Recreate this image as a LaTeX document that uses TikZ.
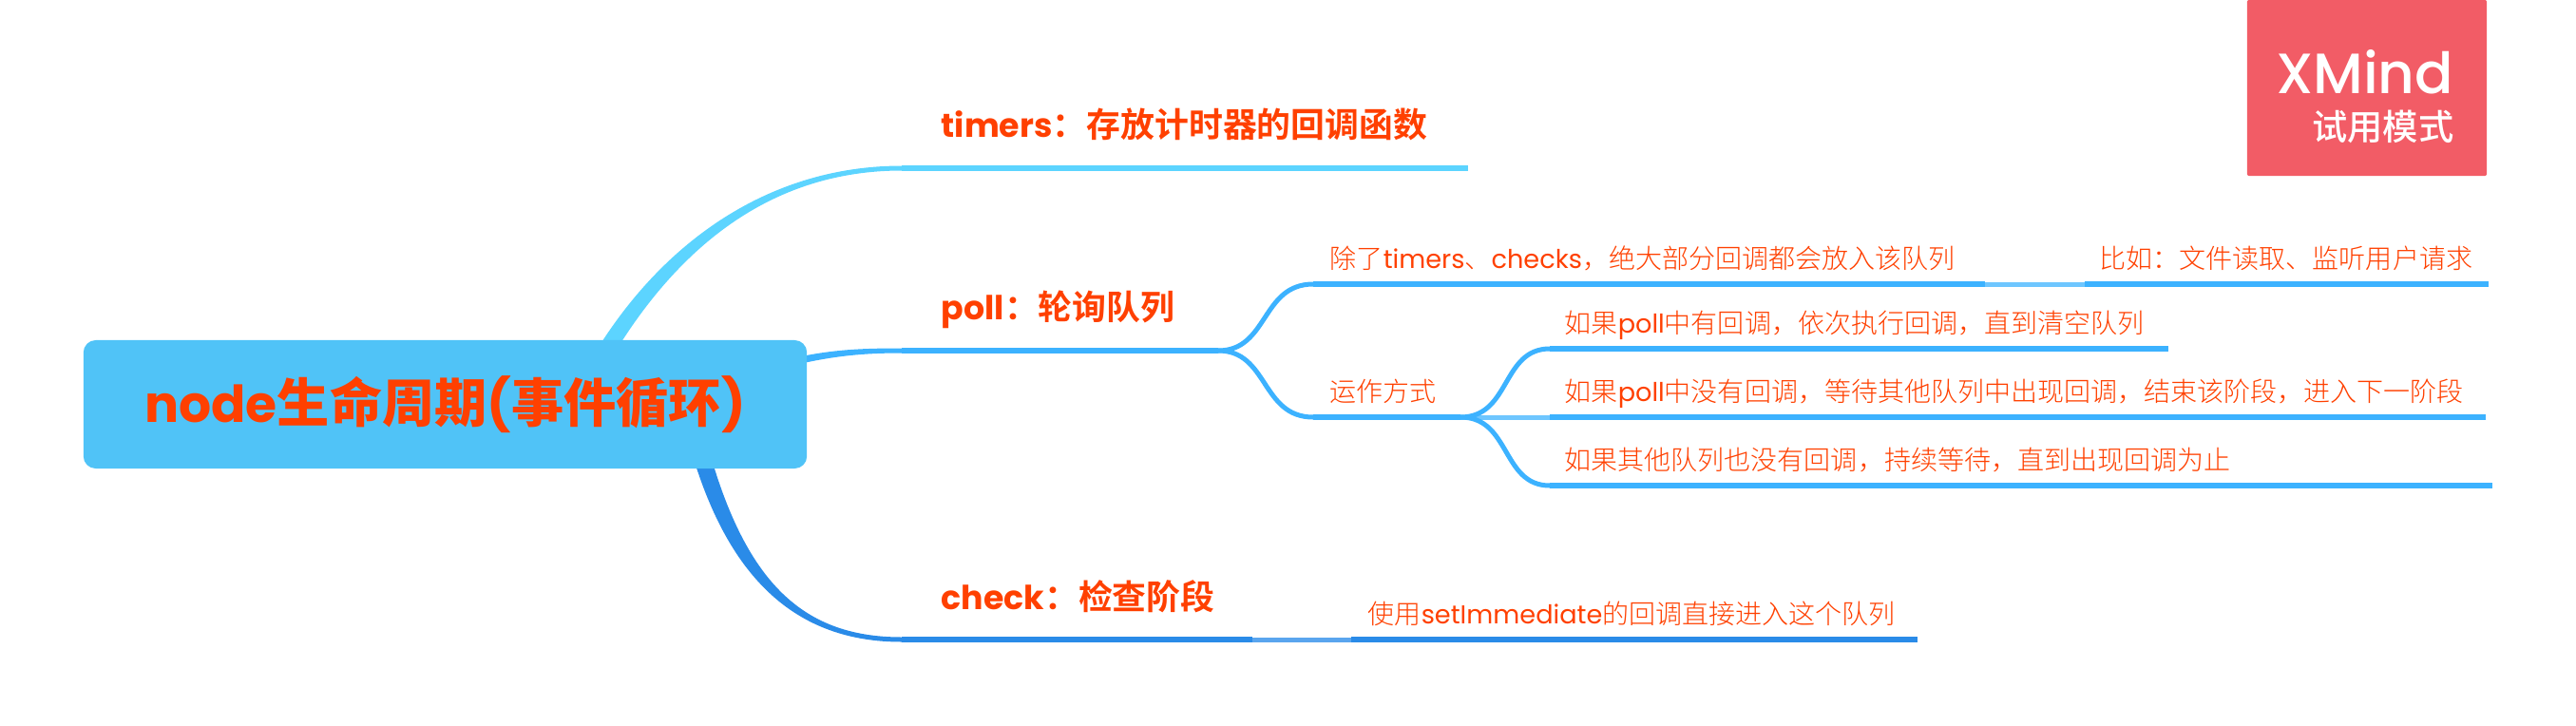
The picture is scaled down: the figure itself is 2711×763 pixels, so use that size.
\documentclass[tikz,border=0pt]{standalone}
\usepackage{fontspec}
\setmainfont{Noto Sans CJK SC Light}[BoldFont=Noto Sans CJK SC Bold]
\newfontfamily\heavyfont{Noto Sans CJK SC Black}
\newfontfamily\badgefont{Noto Sans CJK SC Medium}
\newfontfamily\latinfont{Poppins}[Scale=0.97]
\newfontfamily\logofont{Poppins Medium}
\usepackage{xcolor}
\usetikzlibrary{calc}
\definecolor{orangered}{RGB}{255,64,0}
\definecolor{rootblue}{RGB}{80,195,247}
\definecolor{timerblue}{RGB}{92,212,255}
\definecolor{pollblue}{RGB}{60,178,255}
\definecolor{pollpale}{RGB}{110,198,255}
\definecolor{checkblue}{RGB}{42,139,232}
\definecolor{checkpale}{RGB}{90,165,238}
\definecolor{logored}{RGB}{242,92,102}
\newcommand{\lat}[1]{{\latinfont #1}}
\tikzset{
	rootbox/.style={fill=rootblue, rounded corners=0.13cm, text=orangered, font=\fontsize{15.7pt}{18pt}\selectfont\heavyfont, minimum width=7.61cm, minimum height=1.35cm, inner sep=0pt},
	topic/.style={anchor=base west, inner sep=0pt, text=orangered, font=\fontsize{10.2pt}{12pt}\selectfont\bfseries},
	leaf/.style={anchor=base west, inner sep=0pt, text=orangered, font=\fontsize{7.97pt}{10pt}\selectfont},
	bar/.style={line width=0.055cm},
	link/.style={line width=0.05cm}
}
% tapering branch: colour, start, control, control, end, half width at the start
\newcommand{\branch}[7]{\fill[#1] ($(#2)+(#6,#7)$) .. controls ($(#3)+(#6,#7)$) and ($(#4)+(0,2.5)$) .. ($(#5)+(0,2.5)$) -- ($(#5)+(0,-2.5)$) .. controls ($(#4)+(0,-2.5)$) and ($(#3)-(#6,#7)$) .. ($(#2)-(#6,#7)$) -- cycle;}
\begin{document}
\begin{tikzpicture}[x=0.01cm, y=-0.01cm]
	\useasboundingbox (0,0) rectangle (2711,763);
	\coordinate (timersA) at (949,177);
	\coordinate (timersB) at (1545,177);
	\coordinate (pollA) at (949,369);
	\coordinate (pollB) at (1282,369);
	\coordinate (checkA) at (949,673);
	\coordinate (checkB) at (1318,673);
	\coordinate (useA) at (1422,673);
	\coordinate (useB) at (2018,673);
	\coordinate (allA) at (1382,299);
	\coordinate (allB) at (2089,299);
	\coordinate (exampleA) at (2194,299);
	\coordinate (exampleB) at (2619,299);
	\coordinate (howA) at (1382,439);
	\coordinate (howB) at (1537,439);
	\coordinate (hasA) at (1631,367);
	\coordinate (hasB) at (2282,367);
	\coordinate (noneA) at (1631,439);
	\coordinate (noneB) at (2616,439);
	\coordinate (waitA) at (1631,511);
	\coordinate (waitB) at (2623,511);
	% main branches
	\coordinate (t0) at (620,400); \coordinate (t1) at (690,270); \coordinate (t2) at (800,177);
	\coordinate (p0) at (800,390); \coordinate (p1) at (860,372); \coordinate (p2) at (900,369);
	\coordinate (c0) at (728,440); \coordinate (c1) at (768,610); \coordinate (c2) at (840,673);
	\branch{timerblue}{t0}{t1}{t2}{timersA}{8}{4}
	\branch{pollblue}{p0}{p1}{p2}{pollA}{0}{4}
	\branch{checkblue}{c0}{c1}{c2}{checkA}{-9}{2}
	% lines under the texts
	\draw[bar, timerblue] (timersA) -- (timersB);
	\draw[bar, pollblue] (pollA) -- (pollB);
	\draw[bar, checkblue] (checkA) -- (checkB);
	\draw[link, checkpale] (checkB) -- (useA);
	\draw[bar, checkblue] (useA) -- (useB);
	\draw[bar, pollblue] (allA) -- (allB);
	\draw[link, pollpale] (allB) -- (exampleA);
	\draw[bar, pollblue] (exampleA) -- (exampleB);
	\draw[bar, pollblue] (howA) -- (howB);
	\draw[bar, pollblue] (hasA) -- (hasB);
	\draw[link, pollpale] (howB) -- (noneA);
	\draw[bar, pollblue] (noneA) -- (noneB);
	\draw[bar, pollblue] (waitA) -- (waitB);
	% forks
	\draw[link, pollblue] (pollB) .. controls (1335,369) and (1327,299) .. (allA);
	\draw[link, pollblue] (pollB) .. controls (1335,369) and (1327,439) .. (howA);
	\draw[link, pollblue] (howB) .. controls (1590,439) and (1580,367) .. (hasA);
	\draw[link, pollblue] (howB) .. controls (1590,439) and (1580,511) .. (waitA);
	% texts
	\node[rootbox] (root) at (468.5,425.5) {{\latinfont\bfseries node}生命周期{\latinfont\bfseries (}事件循环{\latinfont\bfseries )}};
	\node[topic] (timers) at (990,144) {\lat{timers}：存放计时器的回调函数};
	\node[topic] (poll) at (990,336) {\lat{poll}：轮询队列};
	\node[topic] (check) at (990,641) {\lat{check}：检查阶段};
	\node[leaf] (all) at (1399,282) {除了\lat{timers}、\lat{checks}，绝大部分回调都会放入该队列};
	\node[leaf] (example) at (2209,282) {比如：文件读取、监听用户请求};
	\node[leaf] (how) at (1399,422) {运作方式};
	\node[leaf] (has) at (1646,350) {如果\lat{poll}中有回调，依次执行回调，直到清空队列};
	\node[leaf] (none) at (1646,422) {如果\lat{poll}中没有回调，等待其他队列中出现回调，结束该阶段，进入下一阶段};
	\node[leaf] (wait) at (1646,494) {如果其他队列也没有回调，持续等待，直到出现回调为止};
	\node[leaf] (use) at (1439,656) {使用\lat{setImmediate}的回调直接进入这个队列};
	% trial badge
	\node[fill=logored, rounded corners=0.02cm, minimum width=2.52cm, minimum height=1.85cm, inner sep=0pt] (badge) at (2491,92.5) {};
	\node[anchor=base east, inner sep=0pt, text=white, font=\fontsize{17pt}{18pt}\selectfont\logofont] (xmind) at (2583,98) {XMind};
	\node[anchor=base east, inner sep=0pt, text=white, font=\fontsize{10.6pt}{12pt}\selectfont\badgefont] (trial) at (2583,147) {试用模式};
\end{tikzpicture}
\end{document}
